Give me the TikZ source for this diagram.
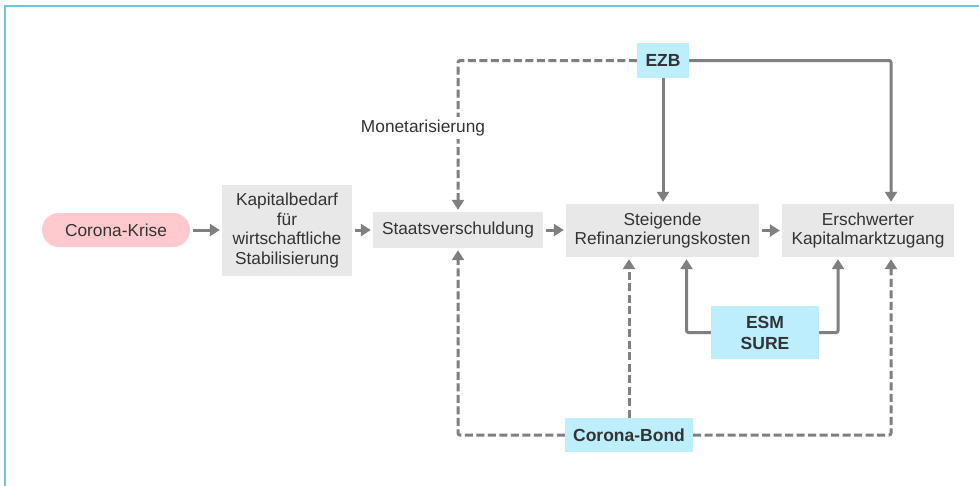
\documentclass[tikz,border=0pt]{standalone}
\usepackage{fontspec}
\setmainfont{Liberation Sans}
\usetikzlibrary{arrows.meta}
\definecolor{pinkc}{HTML}{FFCACE}
\definecolor{grayc}{HTML}{E8E8E8}
\definecolor{bluec}{HTML}{BCEEFD}
\definecolor{linec}{HTML}{7F7F7F}
\definecolor{textc}{HTML}{333333}
\definecolor{framec}{HTML}{6CC6D6}
\begin{document}
\begin{tikzpicture}[x=1pt,y=-1pt,
  font=\fontsize{17.3}{19.5}\selectfont,
  base/.style={inner sep=0pt, align=center, text=textc},
  pinkbox/.style={base, fill=pinkc, rounded corners=17pt},
  graybox/.style={base, fill=grayc},
  bluebox/.style={base, fill=bluec, font=\fontsize{17.5}{21}\selectfont\bfseries},
  arr/.style={draw=linec, line width=3pt, rounded corners=2pt, -{Triangle[length=10pt,width=12pt]}, shorten >=2pt},
  darr/.style={arr, dash pattern=on 8pt off 3.5pt}
]
\clip (0,0) rectangle (979,485);
\fill[white] (0,0) rectangle (979,485);
\draw[framec, line width=2pt] (4.5,6) rectangle (1000,520);

\node[pinkbox, minimum width=148pt, minimum height=34pt] (krise) at (116,230) {Corona-Krise};
\node[graybox, minimum width=130pt, minimum height=91pt] (kap) at (287,230.5) {Kapitalbedarf\\für\\wirtschaftliche\\Stabilisierung};
\node[graybox, minimum width=170pt, minimum height=36pt] (staat) at (458,230) {Staatsverschuldung};
\node[graybox, minimum width=193pt, minimum height=53pt] (steig) at (662.5,230.5) {Steigende\\Refinanzierungskosten};
\node[graybox, minimum width=172pt, minimum height=53pt] (ersch) at (868,230.5) {Erschwerter\\Kapitalmarktzugang};
\node[bluebox, minimum width=52pt, minimum height=35pt] (ezb) at (663,60.5) {EZB};
\node[bluebox, minimum width=108pt, minimum height=53pt] (esm) at (765,332.5) {ESM\\SURE};
\node[bluebox, minimum width=128pt, minimum height=34pt] (bond) at (629,435) {Corona-Bond};

\draw[arr] ([xshift=3pt]krise.east) -- (krise.east -| kap.west);
\draw[arr] ([xshift=3pt]kap.east |- staat.east) -- (staat.west);
\draw[arr] ([xshift=3pt]staat.east) -- (staat.east -| steig.west);
\draw[arr] ([xshift=3pt]steig.east) -- (steig.east -| ersch.west);

\draw[darr] (ezb.west) -| (staat.north);
\draw[arr] (ezb.south) -- (ezb.south |- steig.north);
\draw[arr] (ezb.east) -| ([xshift=23pt]ersch.north);

\draw[arr] (esm.west) -| ([xshift=24pt]steig.south);
\draw[arr] (esm.east) -| ([xshift=-30pt]ersch.south);

\draw[darr] (bond.west) -| (staat.south);
\draw[darr] (bond.north) -- (bond.north |- steig.south);
\draw[darr] (bond.east) -| ([xshift=23pt]ersch.south);

\node[base, fill=white, inner sep=3pt] (mon) at (423,128) {Monetarisierung};
\end{tikzpicture}
\end{document}
